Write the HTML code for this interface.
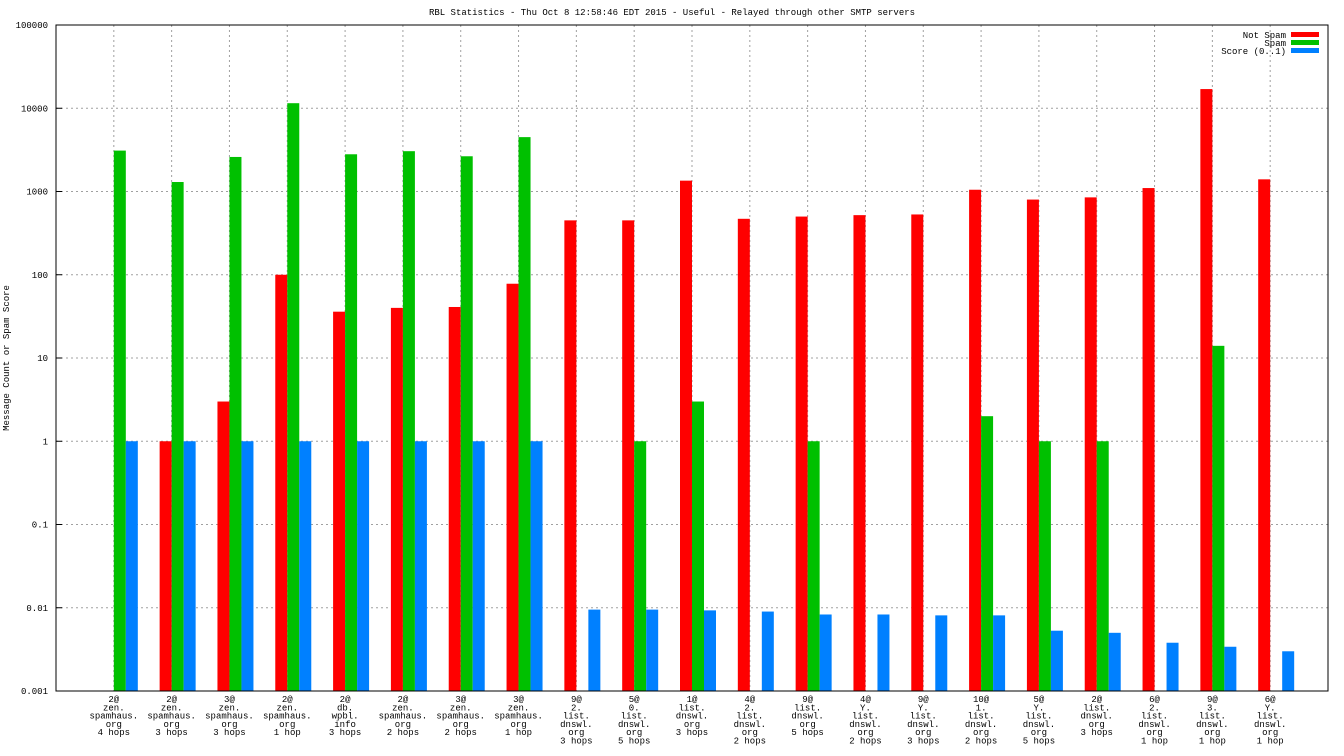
<!DOCTYPE html>
<html><head><meta charset="utf-8"><style>
body{margin:0;background:#fff;}
svg{display:block;font-family:"Liberation Mono","DejaVu Sans Mono",monospace;}
</style></head><body>
<svg id="chart" width="1344" height="756" xmlns="http://www.w3.org/2000/svg">
<text x="672" y="15" text-anchor="middle" font-size="9">RBL Statistics - Thu Oct  8 12:58:46 EDT 2015 - Useful - Relayed through other SMTP servers</text>
<text transform="translate(9,358) rotate(-90)" text-anchor="middle" font-size="9">Message Count or Spam Score</text>
<g id="grid"></g><g id="bars"></g><g id="axes"></g>
<g font-size="9">
<text x="1286" y="38" text-anchor="end">Not Spam</text>
<rect x="1291" y="32" width="28" height="5" fill="#ff0000"/>
<text x="1286" y="46" text-anchor="end">Spam</text>
<rect x="1291" y="40" width="28" height="5" fill="#00c000"/>
<text x="1286" y="54" text-anchor="end">Score (0..1)</text>
<rect x="1291" y="48" width="28" height="5" fill="#0080ff"/>
</g>
</svg>
<script>
const categories=[
["2@","zen.","spamhaus.","org","4 hops"],["2@","zen.","spamhaus.","org","3 hops"],["3@","zen.","spamhaus.","org","3 hops"],["2@","zen.","spamhaus.","org","1 hop"],["2@","db.","wpbl.","info","3 hops"],["2@","zen.","spamhaus.","org","2 hops"],["3@","zen.","spamhaus.","org","2 hops"],["3@","zen.","spamhaus.","org","1 hop"],
["9@","2.","list.","dnswl.","org","3 hops"],["5@","0.","list.","dnswl.","org","5 hops"],["1@","list.","dnswl.","org","3 hops"],["4@","2.","list.","dnswl.","org","2 hops"],["9@","list.","dnswl.","org","5 hops"],["4@","Y.","list.","dnswl.","org","2 hops"],["9@","Y.","list.","dnswl.","org","3 hops"],["10@","1.","list.","dnswl.","org","2 hops"],["5@","Y.","list.","dnswl.","org","5 hops"],["2@","list.","dnswl.","org","3 hops"],["6@","2.","list.","dnswl.","org","1 hop"],["9@","3.","list.","dnswl.","org","1 hop"],["6@","Y.","list.","dnswl.","org","1 hop"]];
const notSpam=[null,1,3,100,36,40,41,78,450,450,1350,470,500,520,530,1050,800,850,1100,17000,1400];
const spam=[3100,1300,2600,11500,2800,3050,2650,4500,null,1,3,null,1,null,null,2,1,1,null,14,null];
const score=[1,1,1,1,1,1,1,1,0.0095,0.0095,0.0093,0.009,0.0083,0.0083,0.0081,0.0081,0.0053,0.005,0.0038,0.0034,0.003];
const yTicks=[0.001,0.01,0.1,1,10,100,1000,10000,100000];
const yTickLabels=["0.001","0.01","0.1","1","10","100","1000","10000","100000"];
const L=56,R=1328,T=25,B=691,NS="http://www.w3.org/2000/svg";
const yMin=-3,yMax=5;
function y(v){return B-(Math.log10(v)-yMin)/(yMax-yMin)*(B-T);}
function x(i){return L+(R-L)*(i+1)/(categories.length+1);}
function mk(tag,attrs,parent){const e=document.createElementNS(NS,tag);for(const k in attrs)e.setAttribute(k,attrs[k]);parent.appendChild(e);return e;}
const grid=document.getElementById('grid'),bars=document.getElementById('bars'),axes=document.getElementById('axes');
yTicks.forEach((t,k)=>{
 const yy=y(t);
 const g=mk('line',{x1:L,x2:R,y1:yy,y2:yy,stroke:'#a0a0a0','stroke-dasharray':'2,3','stroke-width':1},grid);
 
 
 const tx=mk('text',{x:L-8,y:yy+3,'text-anchor':'end','font-size':9},axes);
 tx.textContent=yTickLabels[k];
 
 
 const tk=mk('line',{x1:L,x2:L+6,y1:yy,y2:yy,stroke:'#000'},axes);
 
 
});
categories.forEach((c,i)=>{
 const xx=x(i);
 const g=mk('line',{x1:xx,x2:xx,y1:T,y2:B,stroke:'#a0a0a0','stroke-dasharray':'2,3','stroke-width':1},grid);
 
 
 const series=[[notSpam,'#ff0000',-12,'bar-not-spam'],[spam,'#00c000',0,'bar-spam'],[score,'#0080ff',12,'bar-score']];
 series.forEach(s=>{
  const v=s[0][i]; if(v==null)return;
  const top=y(v);
  const r=mk('rect',{x:xx+s[2],y:top,width:12,height:B-top,fill:s[1]},bars);
  
  
 });
 const t=mk('text',{x:xx,y:702,'text-anchor':'middle','font-size':9},axes);
 
 
 c.forEach((ln,k)=>{const s=mk('tspan',{x:xx,dy:k?8.3:0},t);s.textContent=ln;});
});
const f=mk('rect',{x:L,y:T,width:R-L,height:B-T,fill:'none',stroke:'#000','stroke-width':1},axes);


</script>
</body></html>
